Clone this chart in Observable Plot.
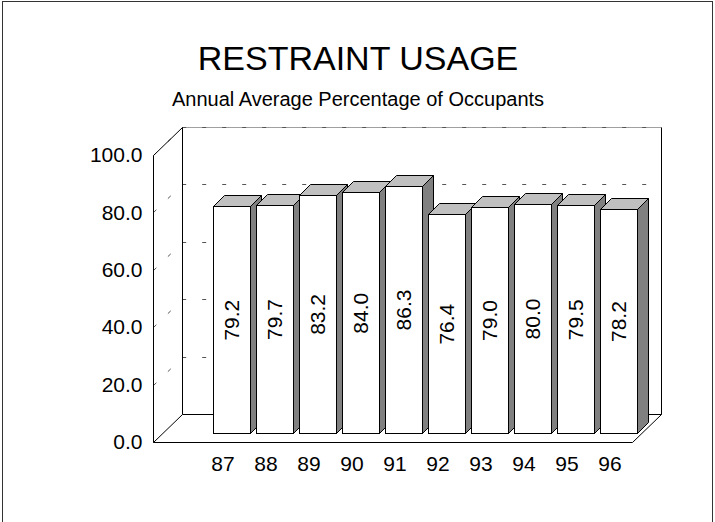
<!DOCTYPE html>
<html><head><meta charset="utf-8">
<script src="https://cdn.jsdelivr.net/npm/d3@7"></script>
<script src="https://cdn.jsdelivr.net/npm/@observablehq/plot@0.6"></script>
<style>
html,body{margin:0;padding:0;background:#fff;overflow:hidden;}
#wrap{position:relative;width:715px;height:522px;}
#border{position:absolute;left:2px;top:1px;width:711px;height:540px;box-sizing:border-box;border:1px solid #333;pointer-events:none;}
</style>
</head><body>
<div id="wrap"><div id="chart"></div><div id="border"></div></div>
<script>
// ---- data ----
const years = ["87","88","89","90","91","92","93","94","95","96"];
const values = [79.2, 79.7, 83.2, 84.0, 86.3, 76.4, 79.0, 80.0, 79.5, 78.2];
const yTicks = [0, 20, 40, 60, 80, 100];
const gridTicks = [20, 40, 60, 80, 100];
const titleText = "RESTRAINT USAGE";
const subtitleText = "Annual Average Percentage of Occupants";

const data = years.map((year, i) => ({year, value: values[i]}));

// ---- 3D geometry (pixel depth vector) ----
const DX = 29, DY = -28;
const BAR_T0 = 0.31, BAR_T1 = 0.69;
const FONT = "'Liberation Sans', Arial, Helvetica, sans-serif";
const px = v => Math.round(v) + 0.5;

function wallsRender(index, scales, values, dims) {
  const {y} = scales;
  const L = dims.marginLeft, R = dims.width - dims.marginRight;
  const y0 = y(0), yTop = y(100);
  const g = d3.create("svg:g").attr("fill", "none");
  g.append("rect").attr("x", px(L + DX)).attr("y", px(yTop + DY))
    .attr("width", Math.round(R - L)).attr("height", Math.round(y0 - yTop)).attr("fill", "#fff");
  g.append("path").attr("d", `M${px(L)},${px(y0)}H${px(R)}L${px(R + DX)},${px(y0 + DY)}H${px(L + DX)}Z`)
    .attr("fill", "#fff").attr("stroke", "#000");
  g.append("path").attr("d", `M${px(L + DX)},${px(yTop + DY)}H${px(R + DX)}`).attr("stroke", "#a0a0a0");
  for (const v of gridTicks) {
    const yy = y(v);
    g.append("path")
      .attr("d", `M${px(L)},${px(yy)}L${px(L + DX)},${px(yy + DY)}H${px(R + DX)}`)
      .attr("stroke", "#555").attr("stroke-dasharray", "4,16");
  }
  g.append("path").attr("d",
    `M${px(L)},${px(y0)}V${px(yTop)}L${px(L + DX)},${px(yTop + DY)}V${px(y0 + DY)}` +
    `M${px(R + DX)},${px(yTop + DY)}V${px(y0 + DY)}`)
    .attr("stroke", "#000");
  return g.node();
}

function barsRender(index, scales) {
  const {x, y} = scales;
  const bw = x.bandwidth();
  const ox = BAR_T0 * DX, oy = BAR_T0 * DY;
  const ddx = Math.round((BAR_T1 - BAR_T0) * DX), ddy = Math.round((BAR_T1 - BAR_T0) * DY);
  const g = d3.create("svg:g").attr("stroke", "#000").attr("stroke-linejoin", "miter");
  for (const i of index) {
    const d = data[i];
    const x0 = px(x(d.year) + ox), x1 = px(x(d.year) + ox + bw);
    const yb = px(y(0) + oy), yt = px(y(d.value) + oy);
    g.append("path").attr("fill", "#808080")
      .attr("d", `M${x1},${yt}V${yb}L${x1 + ddx},${yb + ddy}V${yt + ddy}Z`);
    g.append("path").attr("fill", "#c0c0c0")
      .attr("d", `M${x0},${yt}H${x1}L${x1 + ddx},${yt + ddy}H${x0 + ddx}Z`);
    g.append("rect").attr("fill", "#fff")
      .attr("x", x0).attr("y", yt).attr("width", x1 - x0).attr("height", yb - yt);
  }
  return g.node();
}

const chart = Plot.plot({
  width: 715,
  height: 522,
  marginLeft: 153,
  marginRight: 83,
  marginTop: 155,
  marginBottom: 80,
  style: {fontFamily: FONT, fontSize: "21px", background: "transparent", color: "#000", overflow: "visible"},
  x: {type: "band", domain: years, paddingInner: 0.15, paddingOuter: 0.575, align: 0.92},
  y: {domain: [0, 100]},
  marks: [
    Plot.ruleY([0], {render: wallsRender}),
    Plot.barY(data, {x: "year", y: "value", render: barsRender}),
    Plot.text(data, {
      x: "year", y: d => d.value / 2, text: d => d.value.toFixed(1),
      rotate: -90, dx: BAR_T0 * DX, dy: BAR_T0 * DY, fontSize: 21, fill: "#000"
    }),
    Plot.axisY(yTicks, {tickFormat: d => d.toFixed(1), tickSize: 0, tickPadding: 11, fontSize: 21, label: null}),
    Plot.axisX({tickSize: 0, tickPadding: 14, fontSize: 21, label: null}),
    Plot.text([titleText], {frameAnchor: "top", dx: -35, dy: -110, fontSize: 34, fill: "#000"}),
    Plot.text([subtitleText], {frameAnchor: "top", dx: -35, dy: -64, fontSize: 20, fill: "#000"})
  ]
});
document.getElementById("chart").append(chart);
</script>
</body></html>
